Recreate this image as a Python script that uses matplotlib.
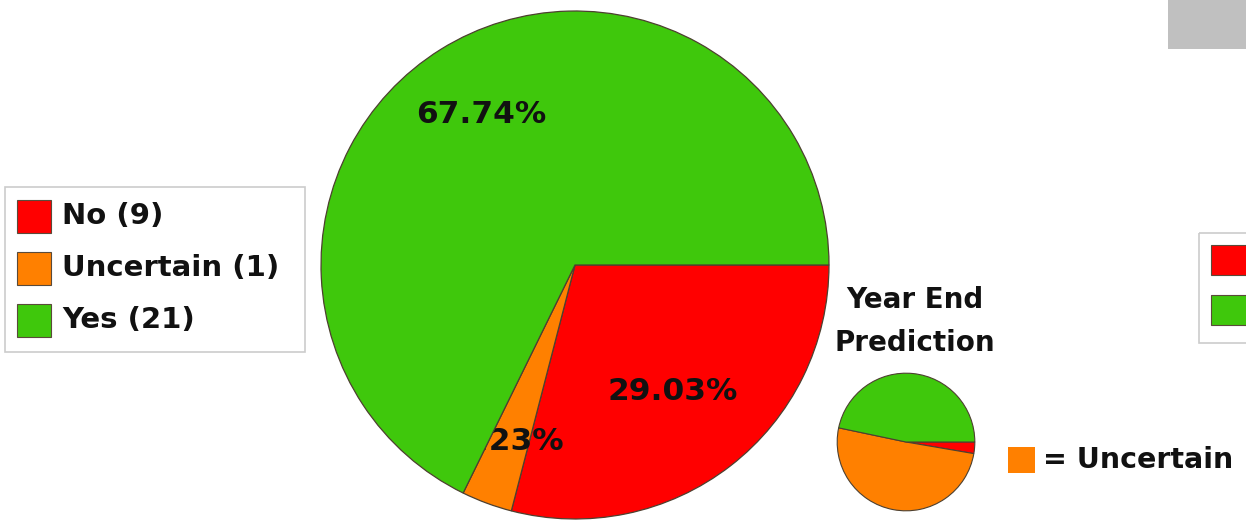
import matplotlib

matplotlib.use("Agg")
import matplotlib.pyplot as plt  # noqa: E402
import numpy as np  # noqa: E402
from matplotlib.patches import Rectangle  # noqa: E402

# Poll answers so far, and the year end prediction split (percent).
categories = ["No", "Uncertain", "Yes"]
counts = [9, 1, 21]
prediction_share = [2.7, 50.6, 46.7]

colors = ["#ff0000", "#ff8000", "#3fc80c"]
EDGE = "#4d4030"
INK = "#111111"

W, H = 1246, 525
fig = plt.figure(figsize=(W / 100, H / 100), dpi=100)


def pie_axes(cx, cy, r):
    """Square axes centred on pixel (cx, cy) with half-size r."""
    ax = fig.add_axes([(cx - r) / W, (H - cy - r) / H, 2 * r / W, 2 * r / H])
    ax.set_axis_off()
    return ax


# Main pie: slices run clockwise from 3 o'clock.
ax = pie_axes(575, 265, 255)
wedges, _ = ax.pie(
    counts,
    colors=colors,
    startangle=0,
    counterclock=False,
    wedgeprops=dict(edgecolor=EDGE, linewidth=0.9),
)
ax.set_xlim(-1.004, 1.004)
ax.set_ylim(-1.004, 1.004)

label_radius = [0.63, 0.74, 0.70]
total = sum(counts)
pct_labels = []
for wedge, n, r in zip(wedges, counts, label_radius):
    mid = np.deg2rad((wedge.theta1 + wedge.theta2) / 2)
    pct_labels.append(ax.text(
        r * np.cos(mid), r * np.sin(mid), f"{100 * n / total:.2f}%",
        ha="center", va="center", fontsize=22.5, fontweight="bold",
        color=INK, zorder=5,
    ))
# the "Yes" wedge sits over the small slice's label, as in the dashboard
wedges[2].set_zorder(4)
pct_labels[1].set_zorder(3)

# Year end prediction pie
ax2 = pie_axes(906, 442, 69.5)
ax2.pie(
    prediction_share,
    colors=colors,
    startangle=0,
    counterclock=False,
    wedgeprops=dict(edgecolor=EDGE, linewidth=0.8),
)
ax2.set_xlim(-1.01, 1.01)
ax2.set_ylim(-1.01, 1.01)

# Overlay in pixel coordinates for legends and captions.
ov = fig.add_axes([0, 0, 1, 1], facecolor="none")
ov.set_xlim(0, W)
ov.set_ylim(H, 0)
ov.set_axis_off()

ov.add_patch(Rectangle((5, 187), 300, 165, fill=False, edgecolor="#cccccc", lw=1.2))
for i, (name, n, c) in enumerate(zip(categories, counts, colors)):
    y = 216 + 52 * i
    ov.add_patch(Rectangle((17, y - 16.5), 34, 33, facecolor=c, edgecolor="#5a4a3a", lw=0.8))
    ov.text(62, y, f"{name} ({n})", ha="left", va="center",
            fontsize=21, fontweight="bold", color=INK)

# partly visible legend and button at the right edge
ov.add_patch(Rectangle((1168, -2), 100, 51, facecolor="#c0c0c0", edgecolor="none"))
ov.add_patch(Rectangle((1199, 233), 100, 110, fill=False, edgecolor="#cccccc", lw=1.2))
for y, c in [(245, colors[0]), (295, colors[2])]:
    ov.add_patch(Rectangle((1211, y), 40, 30, facecolor=c, edgecolor="#5a4a3a", lw=0.8))

ov.text(915, 300, "Year End", ha="center", va="center",
        fontsize=20, fontweight="bold", color=INK)
ov.text(915, 343, "Prediction", ha="center", va="center",
        fontsize=20, fontweight="bold", color=INK)

ov.add_patch(Rectangle((1008, 447), 27, 26, facecolor=colors[1], edgecolor="none"))
ov.text(1043, 460, "= Uncertain", ha="left", va="center",
        fontsize=20.5, fontweight="bold", color=INK)

fig.savefig("out.png", dpi=100, facecolor="white")
